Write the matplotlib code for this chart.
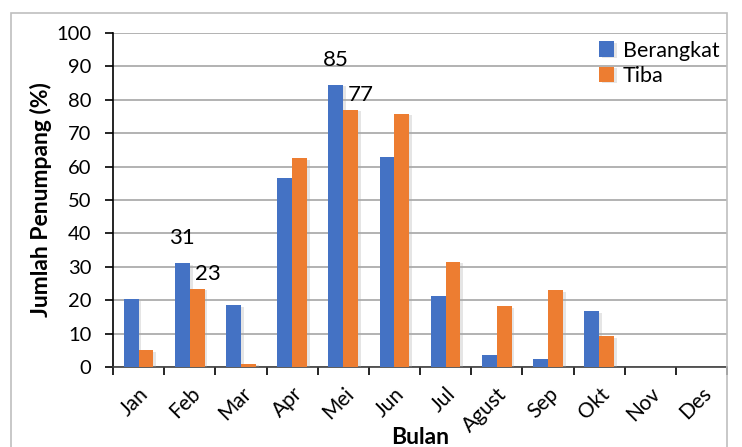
import matplotlib
matplotlib.use("Agg")
import matplotlib.pyplot as plt
import matplotlib.patheffects as pe
from matplotlib.patches import Rectangle
import numpy as np

bulan = ["Jan", "Feb", "Mar", "Apr", "Mei", "Jun", "Jul", "Agust", "Sep", "Okt", "Nov", "Des"]
berangkat = [20.3, 31.0, 18.5, 56.5, 84.5, 63.0, 21.2, 3.5, 2.3, 16.7, 0, 0]
tiba = [5.0, 23.5, 1.0, 62.5, 77.0, 75.8, 31.5, 18.2, 23.0, 9.2, 0, 0]
# labels shown only on a few bars
labels_b = {1: "31", 4: "85"}
labels_t = {1: "23", 4: "77"}

plt.rcParams["font.family"] = ["Lato", "DejaVu Sans"]
BLUE, ORANGE = "#4472c4", "#ed7d31"

fig = plt.figure(figsize=(7.42, 4.47), dpi=100)
ax = fig.add_axes([113/742, 1-367/447, (727-113)/742, (367-33)/447])
fig.patches.append(Rectangle((11/742, -0.1), (727-11)/742, 1.1-13/447, transform=fig.transFigure,
                             fill=False, ec="#bfbfbf", lw=1.2, zorder=0))

x = np.arange(len(bulan)); w = 0.29
shadow = [pe.SimplePatchShadow(offset=(2, -1), shadow_rgbFace="#aaaaaa", alpha=0.3), pe.Normal()]
bb = ax.bar(x - w/2, berangkat, w, color=BLUE, label="Berangkat", zorder=3)
bt = ax.bar(x + w/2, tiba, w, color=ORANGE, label="Tiba", zorder=3)
for p in list(bb) + list(bt):
    p.set_path_effects(shadow)

for i, s in labels_b.items():
    ax.text(x[i] - w/2, berangkat[i] + 7.5, s, ha="center", va="center", fontsize=16)
for i, s in labels_t.items():
    ax.text(x[i] + w/2 + 0.2, tiba[i] + 4.3, s, ha="center", va="center", fontsize=16)

ax.set_xlim(-0.5, len(bulan) - 0.5); ax.set_ylim(0, 100)
ax.set_yticks(range(0, 101, 10))
ax.yaxis.grid(True, color="#a6a6a6", lw=1.2, zorder=0)
ax.set_axisbelow(True)
ax.set_xticks(np.append(x - 0.5, len(bulan) - 0.5))
ax.set_xticklabels([])
ax.set_xticks(x, minor=True)
ax.set_xticklabels(bulan, minor=True, rotation=45, ha="right", va="top", rotation_mode="anchor", fontsize=15)
ax.tick_params(axis="x", which="minor", length=0, pad=12)
ax.tick_params(axis="x", which="major", length=6, width=1.2, direction="out")
ax.tick_params(axis="y", length=5.5, width=1.2, labelsize=14.5, pad=10)
for s in ["top", "right"]:
    ax.spines[s].set_visible(False)
ax.spines["left"].set_linewidth(1.2)
ax.spines["bottom"].set_linewidth(1.2)
ax.spines["bottom"].set_color("#404040")
ax.set_ylabel("Jumlah Penumpang (%)", fontsize=16.5, fontweight="bold", labelpad=3)
ax.set_xlabel("Bulan", fontsize=16.5, fontweight="bold", labelpad=0)
ax.xaxis.set_label_coords(0.5, -0.18)

ax.legend(loc="upper right", bbox_to_anchor=(1.0, 1.0), frameon=False, fontsize=15.5,
          handlelength=0.7, handleheight=0.7, handletextpad=0.4, labelspacing=0.25, borderpad=0.15,
          borderaxespad=0.2)

fig.savefig("out.png", dpi=100)
